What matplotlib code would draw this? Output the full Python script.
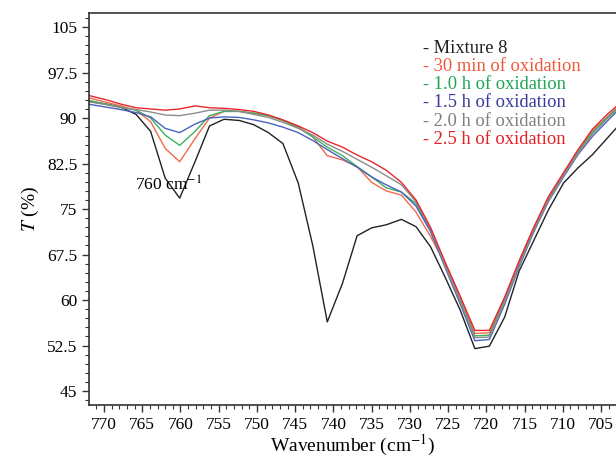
import numpy as np
import matplotlib.pyplot as plt
from matplotlib.ticker import MultipleLocator

plt.rcParams['font.family'] = ['Liberation Serif', 'DejaVu Serif']
plt.rcParams['mathtext.fontset'] = 'stix'

# wavenumber grid (cm^-1) of the spectra
wn = [773.6, 771.6, 769.7, 767.8, 765.8, 763.9, 762.0, 760.1, 758.1, 756.2,
      754.3, 752.3, 750.4, 748.5, 746.6, 744.6, 742.7, 740.8, 738.8, 736.9,
      735.0, 733.1, 731.1, 729.2, 727.3, 725.4, 723.4, 721.5, 719.6, 717.6,
      715.7, 713.8, 711.9, 709.9, 708.0, 706.1, 704.1, 702.2]

mixture = [93.2, 92.7, 92.3, 91.8, 90.6, 87.8, 80.1, 76.8, 82.8, 88.7,
           89.8, 89.6, 88.9, 87.6, 85.8, 79.3, 69.0, 56.4, 62.8, 70.6,
           71.9, 72.4, 73.3, 72.1, 68.8, 63.8, 58.3, 52.0, 52.4, 57.2,
           64.8, 69.8, 74.8, 79.3, 81.8, 84.0, 86.8, 89.5]
min30 = [93.8, 93.2, 92.6, 92.0, 91.3, 89.4, 85.0, 82.8, 86.6, 90.0,
         91.1, 91.1, 90.8, 90.4, 89.6, 88.6, 86.9, 83.8, 83.1, 82.0,
         79.4, 78.0, 77.3, 74.5, 70.5, 66.0, 60.2, 54.5, 54.6, 60.2,
         66.2, 71.7, 76.7, 80.7, 84.5, 87.9, 90.3, 92.5]
h10 = [93.3, 92.8, 92.3, 91.8, 91.3, 90.0, 87.2, 85.5, 87.8, 90.4,
       91.1, 91.1, 90.8, 90.4, 89.6, 88.4, 86.9, 85.2, 83.8, 82.0,
       80.3, 78.5, 77.8, 75.9, 71.5, 65.8, 59.9, 54.1, 54.2, 60.0,
       66.0, 71.5, 76.5, 80.6, 84.4, 87.7, 90.2, 92.4]
h15 = [92.6, 92.2, 91.8, 91.4, 90.9, 90.2, 88.3, 87.6, 89.0, 90.0,
       90.2, 90.1, 89.7, 89.2, 88.5, 87.6, 86.3, 84.8, 83.3, 81.9,
       80.3, 79.0, 77.8, 75.5, 71.3, 65.4, 59.3, 53.3, 53.5, 59.3,
       65.5, 71.2, 76.2, 80.3, 84.0, 87.0, 89.6, 92.0]
h20 = [93.1, 92.6, 92.2, 91.7, 91.4, 91.0, 90.5, 90.4, 90.8, 91.3,
       91.3, 91.1, 90.6, 90.1, 89.3, 88.3, 87.2, 85.7, 84.5, 83.2,
       81.9, 80.5, 79.0, 76.2, 71.8, 65.7, 59.7, 53.8, 53.9, 59.7,
       65.8, 71.4, 76.4, 80.5, 84.2, 87.4, 90.0, 92.2]
h25 = [94.2, 93.6, 93.0, 92.3, 91.7, 91.5, 91.3, 91.5, 92.0, 91.7,
       91.6, 91.4, 91.1, 90.5, 89.7, 88.7, 87.6, 86.2, 85.2, 83.9,
       82.8, 81.4, 79.4, 76.5, 72.0, 66.3, 60.6, 55.0, 55.0, 60.5,
       66.5, 72.0, 77.0, 81.0, 84.8, 88.2, 90.7, 92.8]

labels = ['Mixture 8', '30 min of oxidation', '1.0 h of oxidation',
          '1.5 h of oxidation', '2.0 h of oxidation', '2.5 h of oxidation']
line_colors = ['#222222', '#f26a4a', '#3cb060', '#4a62c0', '#8c8c8c', '#e8262e']
text_colors = ['#222222', '#f0583a', '#1fa552', '#3a3a9a', '#808080', '#e41f26']
series = [mixture, min30, h10, h15, h20, h25]

fig = plt.figure(figsize=(6.16, 4.59), dpi=100)
ax = fig.add_axes([0.1445, 0.1176, 0.8555, 0.854])

for s, c in zip(series, line_colors):
    ax.plot(wn, s, color=c, lw=1.0)

ax.set_xlim(771.96, 703.04)
ax.set_ylim(42.7, 107.31)
ax.xaxis.set_major_locator(MultipleLocator(5))
ax.xaxis.set_minor_locator(MultipleLocator(1))
ax.set_yticks([45, 52.5, 60, 67.5, 75, 82.5, 90, 97.5, 105])
ax.set_yticklabels(['45', '52.5', '60', '67.5', '75', '82.5', '90', '97.5', '105'])
ax.yaxis.set_minor_locator(MultipleLocator(1.5))
ax.tick_params(which='major', direction='out', length=5, width=1, labelsize=12.5, color='#333333')
ax.tick_params(which='minor', direction='out', length=3, width=0.8, color='#333333')
ax.spines['right'].set_visible(False)
for sp in ['left', 'bottom', 'top']:
    ax.spines[sp].set_linewidth(1.2)
    ax.spines[sp].set_color('#333333')

ax.set_xlabel('Wavenumber (cm$^{-1}$)', fontsize=14, labelpad=0)
ax.set_ylabel('$T$ (%)', fontsize=14, labelpad=4)

ax.text(761.6, 79.0, '760 cm$^{-1}$', ha='center', va='center', fontsize=12.5)

for i, (lab, c) in enumerate(zip(labels, text_colors)):
    ax.text(0.633, 0.91 - i * 0.0465, '- ' + lab, color=c, fontsize=13.3,
            transform=ax.transAxes, ha='left', va='center')

fig.savefig('out.png', dpi=100)
